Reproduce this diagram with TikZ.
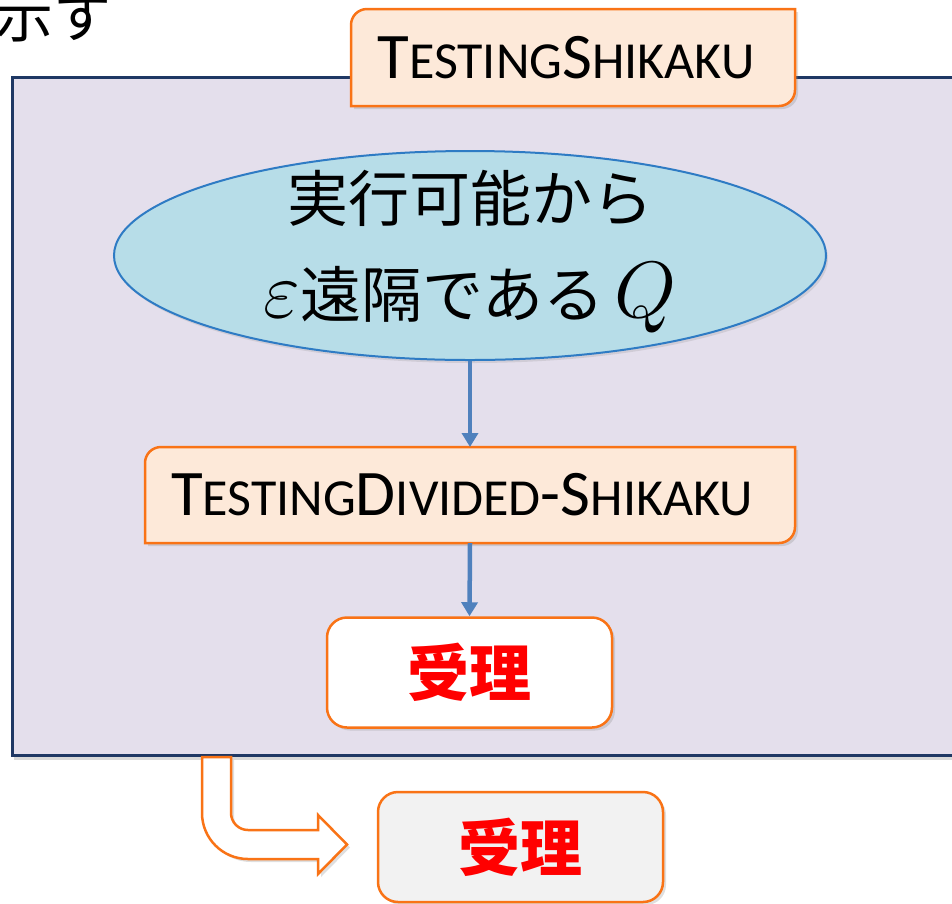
\RequirePackage{fix-cm}
\documentclass[tikz,border=0pt]{standalone}
\usepackage{fontspec}
\newfontfamily\jp{Noto Sans CJK JP}
\newfontfamily\carlito{Carlito}
\usetikzlibrary{shapes.geometric,arrows.meta,shadows,calc}
\definecolor{frameedge}{HTML}{1F3864}
\definecolor{framefill}{HTML}{E4DFEC}
\definecolor{orangeedge}{HTML}{F97316}
\definecolor{peach}{HTML}{FDE9D9}
\definecolor{ellfill}{HTML}{B7DDE8}
\definecolor{elledge}{HTML}{2E7BC4}
\definecolor{arrowblue}{HTML}{4F81BD}
\definecolor{accgray}{HTML}{F2F2F2}
\newcommand\smc[1]{{\fontsize{52pt}{60pt}\selectfont #1}}
\newcommand\largemath[1]{{\fontsize{80pt}{96pt}\selectfont$#1$}}
\newcommand\diagbox[3]{%
  \path[#3] ($(#1.north west)+(0,#2)$) arc[start angle=180,end angle=270,radius=#2]
    -- (#1.north east) -- ($(#1.south east)+(0,-#2)$) arc[start angle=0,end angle=90,radius=#2]
    -- (#1.south west) -- cycle;}
\tikzset{
  frame/.style={draw=frameedge, line width=3pt, fill=framefill,
    drop shadow={opacity=.3, shadow xshift=2pt, shadow yshift=-5pt}},
  peachbox/.style={draw=orangeedge, line width=2.5pt, fill=peach,
    drop shadow={opacity=.25, shadow xshift=3pt, shadow yshift=-3pt}},
  holder/.style={inner sep=0pt, outer sep=0pt},
  latin/.style={font=\carlito\fontsize{65pt}{78pt}\selectfont, inner sep=0pt},
  acceptbox/.style={draw=orangeedge, line width=2.5pt, rounded corners=20pt,
    minimum width=285pt, minimum height=110pt, inner sep=0pt,
    font=\jp\bfseries\fontsize{62pt}{70pt}\selectfont, text=red,
    drop shadow={opacity=.25, shadow xshift=3pt, shadow yshift=-3pt}},
  conn/.style={draw=arrowblue, line width=4.5pt, -{Triangle[length=14pt,width=16pt]}},
  blockarrow/.style={draw=orangeedge, line width=2.5pt, fill=white,
    drop shadow={opacity=.25, shadow xshift=3pt, shadow yshift=-3pt}},
  qell/.style={ellipse, draw=elledge, line width=2pt, fill=ellfill,
    minimum width=712pt, minimum height=209pt, inner sep=0pt,
    drop shadow={opacity=.2, shadow xshift=2pt, shadow yshift=-3pt}}
}
\begin{document}
\begin{tikzpicture}[x=1pt,y=-1pt]
\useasboundingbox (0,0) rectangle (952,903);
\clip (0,0) rectangle (952,903);
% invisible holders for the diagonal-corner boxes
\node[holder, minimum width=444pt, minimum height=97pt] (shk) at (573,57.5) {};
\node[holder, minimum width=650pt, minimum height=96pt] (div) at (470,495) {};
% outer frame
\path[frame] (12,77) rectangle (985,755);
% boxes
\diagbox{shk}{16}{peachbox}
\diagbox{div}{16}{peachbox}
\node[qell] (q) at (470,255.5) {};
\node[acceptbox, fill=white] (acc1) at (469.5,672.5) {受理};
\node[acceptbox, fill=accgray] (acc2) at (520.5,847) {受理};
% texts
\node[latin] (shktext) at (566,58) {T\smc{ESTING}S\smc{HIKAKU}};
\node[latin] (divtext) at (462,495) {T\smc{ESTING}D\smc{IVIDED}-S\smc{HIKAKU}};
\node[font=\jp\fontsize{61pt}{96pt}\selectfont, align=center, inner sep=0pt] (qtext) at (470,252)
  {実行可能から\\\largemath{\varepsilon}遠隔である\,\largemath{Q}};
\node[font=\jp\fontsize{58pt}{60pt}\selectfont, inner sep=0pt] (shimesu) at (53,17) {示す};
% connectors
\draw[conn] (q.south) -- (div.north);
\draw[conn] (div.south) -- (acc1.north);
% block arrow
\path[blockarrow] (202,757) -- (202,813) arc[start angle=180,end angle=90,radius=46]
  -- (318,859) -- (318,874) -- (347,844.5) -- (318,815) -- (318,830) -- (248,830)
  arc[start angle=90,end angle=180,radius=17] -- (231,757) -- cycle;
\end{tikzpicture}
\end{document}
